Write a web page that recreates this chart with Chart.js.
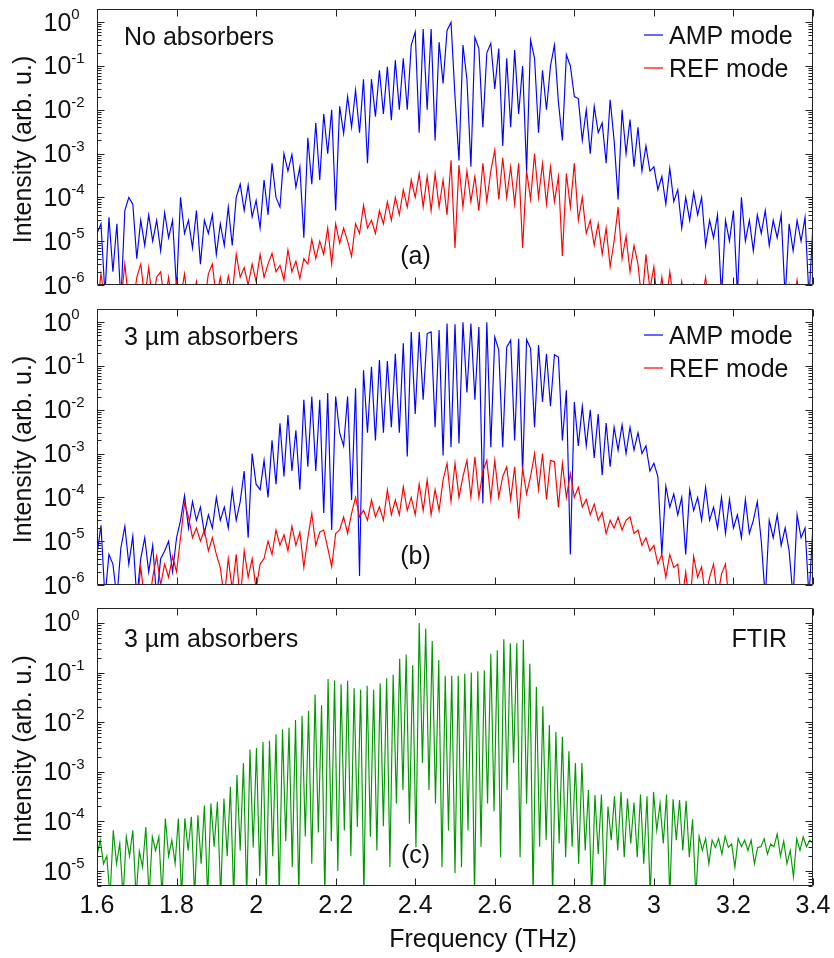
<!DOCTYPE html>
<html>
<head>
<meta charset="utf-8">
<script src="https://cdn.jsdelivr.net/npm/chart.js@4.4.1/dist/chart.umd.min.js"></script>
<style>
body{margin:0;background:#fff;}
#fig{position:relative;width:834px;height:958px;overflow:hidden;}
#fig canvas{position:absolute;left:0;}
</style>
</head>
<body>
<div id="fig">
<canvas id="panelA" width="834" height="300" style="top:0px"></canvas>
<canvas id="panelB" width="834" height="300" style="top:300px"></canvas>
<canvas id="panelC" width="834" height="358" style="top:600px"></canvas>
</div>
<script>
// sampling grids (THz): panels a,b every 0.01, FTIR on half the mode spacing
var freqAB = [];
for (var i = 0; i <= 180; i++) freqAB.push(1.6 + i * 0.01);
var freqC = [];
for (var j = 0; j <= 220; j++) freqC.push(1.6 + j * 1.8 / 220);

var xTicks = [1.6, 1.8, 2.0, 2.2, 2.4, 2.6, 2.8, 3.0, 3.2, 3.4];
var xTickLabels = ["1.6", "1.8", "2", "2.2", "2.4", "2.6", "2.8", "3", "3.2", "3.4"];
var yExpAB = [-6, -5, -4, -3, -2, -1, 0];
var yExpC = [-5, -4, -3, -2, -1, 0];

// (a) no absorbers
var ampA = [
1.5e-5,2.5e-5,6e-7,3.5e-5,2e-6,2.5e-5,4e-7,5e-5,1e-4,7e-5,
4e-6,3e-5,8e-6,4e-5,1e-5,3e-5,6e-6,4.5e-5,1.2e-5,3e-5,
8e-7,1e-4,1.5e-5,3e-5,7e-6,5e-5,3e-6,3e-5,1.5e-5,4e-5,
5e-6,2.5e-5,8e-6,6e-5,8e-6,1e-4,2e-4,5e-5,1.9e-4,3.6e-5,
8.5e-5,2e-5,2.5e-4,4e-5,6e-4,1e-4,6e-5,1e-3,4e-4,9.5e-4,
1.7e-4,5e-4,1.2e-5,2.3e-3,2e-4,5e-3,2.5e-4,8e-3,1e-3,1e-2,
5e-5,1.2e-2,2.9e-3,2e-2,4e-3,2.8e-2,3e-3,5e-2,6e-4,5e-2,
7e-3,8e-2,8e-3,9.6e-2,5.8e-3,0.135,1e-2,0.15,1e-2,0.3,
0.6,3e-3,0.7,1e-2,0.7,2e-3,0.35,4e-2,0.65,1.0,
2e-2,7e-4,0.3,5e-2,5e-4,0.45,0.25,4e-3,0.2,0.33,
3e-2,0.25,1.5e-3,0.15,4e-3,0.23,8e-3,0.1,4e-4,0.39,
0.15,3e-3,0.08,1e-2,0.1,0.3,1.5e-2,2e-3,0.18,0.1,
2e-2,1.8e-2,2e-3,1e-2,1e-3,1.2e-2,3e-3,5e-3,6e-4,1.7e-2,
2e-3,9e-5,1e-2,1e-3,6e-3,5e-4,4e-3,4e-4,1.5e-3,4e-4,
5e-4,1.5e-4,3e-4,7e-5,4.6e-4,8e-5,1.5e-4,2e-5,1e-4,3e-5,
1.3e-4,4e-5,1e-4,8e-6,3e-5,1.2e-5,4e-5,5e-7,3e-5,1e-5,
5e-5,6e-7,1e-4,1e-5,3e-5,6e-6,4e-5,1.5e-5,5e-5,8e-6,
3e-5,1.2e-5,4e-5,5e-7,2.5e-5,6e-6,3e-5,1e-5,3.5e-5,5e-7,2.5e-5
];
var refA = [
3e-7,1.8e-6,4e-7,3e-7,5e-7,3e-7,4e-7,3e-6,4e-7,3e-7,
1.5e-6,3e-6,5e-7,2.5e-6,4e-7,1.5e-6,2e-6,4e-7,1.5e-6,3e-7,
1.2e-6,5e-7,1.8e-6,3e-7,4e-7,1.2e-6,3e-7,4e-7,1.8e-6,3e-6,
5e-7,1.5e-6,4e-7,1.6e-6,6e-7,5e-6,1.5e-6,2.5e-6,1e-6,3e-6,
1.2e-6,5e-6,1.5e-6,3e-6,5.3e-6,2e-6,2.8e-6,1.3e-6,6.3e-6,2e-6,
3.5e-6,1.4e-6,4e-6,3e-6,1.1e-5,4e-6,1e-5,5e-6,2e-5,3e-6,
2.5e-5,9e-6,2e-5,1e-5,4.5e-6,2.5e-5,1.5e-5,6.6e-5,2e-5,3e-5,
1.5e-5,5e-5,2.5e-5,8e-5,3e-5,1e-4,4e-5,1.5e-4,6e-5,2.5e-4,
1e-4,3.5e-4,6e-5,3e-4,5e-5,3.5e-4,6e-5,2.5e-4,4e-5,7e-4,
7e-6,5.5e-4,6e-5,4e-4,8e-5,3e-4,5e-5,6e-4,8e-5,4e-4,
1.2e-3,9e-5,8e-4,1e-4,5e-4,7e-5,6e-4,7e-6,4e-4,9e-5,
1e-3,1e-4,6e-4,7e-5,5e-4,8e-5,3e-4,4.6e-6,3.5e-4,6e-5,
6e-4,3e-5,1e-4,1.5e-5,3e-5,8e-6,2.5e-5,5e-6,2e-5,2.6e-6,
1e-5,6e-5,4e-6,1.3e-5,2e-6,8e-6,3e-6,4e-7,5e-6,8e-7,
2.6e-6,3e-7,1.5e-6,3e-7,2e-6,4e-7,3e-7,1.2e-6,3e-7,5e-7,
1e-6,3e-7,4e-7,1.5e-6,3e-7,4e-7,3e-7,1.2e-6,3e-7,4e-7,
3e-7,5e-7,3e-7,4e-7,3e-7,3e-7,1.2e-6,3e-7,4e-7,3e-7,
3e-7,5e-7,3e-7,3e-7,1e-6,3e-7,1.3e-6,3e-7,3e-7,4e-7,3e-7
];

// (b) 3 um absorbers
var ampB = [
5e-6,2.3e-5,5e-7,5e-6,3e-6,5e-7,7e-6,2.2e-5,3e-6,1.3e-5,
5e-7,4e-6,1.2e-5,2e-6,8e-6,5e-7,4e-6,6e-6,1e-5,2e-6,
1.2e-5,3e-5,1.1e-4,2e-5,8e-5,3e-5,6e-5,1.5e-5,4e-5,2e-5,
1e-4,3e-5,6e-5,2e-5,1.5e-4,3e-5,8e-5,4e-4,1.2e-5,1e-3,
2e-4,1.5e-4,7e-4,1e-4,2e-3,2e-4,4.9e-3,3e-4,7.6e-3,4e-4,
3.4e-3,1.5e-4,1.7e-2,5e-4,2e-2,4e-4,1.7e-2,4.4e-5,2.4e-2,1.8e-5,
2e-2,3e-3,1.5e-3,2e-2,8.7e-5,3.1e-2,1.6e-6,8e-2,3e-3,9.6e-2,
2e-3,0.136,3e-3,0.13,4e-3,0.19,3e-3,0.33,8.6e-4,0.6,
8e-3,0.6,1.7e-2,0.55,0.6,4e-3,0.66,9e-4,0.93,1.4e-3,
0.9,1.7e-3,1.0,2.5e-2,0.93,1.7e-2,0.78,7.3e-5,1.0,1.4e-3,
0.46,0.23,1.4e-3,0.27,0.39,2e-3,0.42,3.5e-4,0.4,0.25,
4e-3,0.3,1.5e-2,0.19,1.2e-2,0.18,0.16,2e-3,2.8e-2,5e-6,
1.5e-2,1.5e-3,1.2e-2,1.5e-3,1e-2,8e-4,8e-3,3.2e-4,5e-3,5e-4,
4e-3,1.2e-3,4.5e-3,1e-3,4e-3,1.2e-3,3e-3,1e-3,1.5e-3,4e-4,
6e-4,3e-4,5e-6,1.8e-4,6e-5,1.2e-4,4e-5,1e-4,5e-6,1.5e-4,
5e-5,1e-4,3e-5,1.7e-4,3e-5,6e-5,2e-5,1e-4,1.5e-5,9e-5,
2e-5,4e-5,1.2e-5,9e-5,1.5e-5,3e-5,8e-5,1e-5,5e-7,3e-5,
1.2e-5,4e-5,8e-6,2e-5,6e-6,5e-7,4e-5,1.2e-5,2e-5,5e-7,2.5e-5
];
var refB = [
3e-7,4e-7,3e-7,3e-7,5e-7,3e-7,4e-7,3e-7,3e-7,4e-7,
3e-7,2.6e-6,4e-7,3e-7,1.5e-6,4.5e-6,1e-6,3e-6,1.5e-6,4.5e-6,
2e-6,1.2e-5,7.4e-5,3.6e-5,1.2e-5,2e-5,1e-5,1.8e-5,6e-6,1.2e-5,
5e-6,2.5e-6,5e-7,4e-6,8e-7,5e-6,4e-7,6e-6,1.5e-6,4e-6,
8e-7,3e-6,4e-6,1e-5,5e-6,1.8e-5,8e-6,1.4e-5,6e-6,2.2e-5,
8e-6,1.6e-5,2.5e-6,1.2e-5,4.3e-5,8e-6,1.6e-5,1.8e-5,7e-6,2.6e-6,
1.5e-5,1.8e-5,3.6e-5,1.5e-5,4.3e-5,1e-4,3.6e-5,5.1e-5,3e-5,8.7e-5,
3.6e-5,6.1e-5,3e-5,1.5e-4,4e-5,8.7e-5,4e-5,1.75e-4,5e-5,1e-4,
4e-5,2e-4,5e-5,2.5e-4,4e-5,1.5e-4,5e-5,2.5e-4,6e-4,8e-5,
6e-4,1e-4,3e-4,7e-4,1e-4,8.5e-4,1e-4,4e-4,7e-4,9e-5,
7e-4,1e-4,3e-4,5e-4,9e-5,5e-4,3.3e-5,4.5e-4,1.2e-4,3e-4,
1e-3,1.5e-4,1e-3,9e-5,7e-4,6.5e-4,6e-5,6e-4,1e-4,3.5e-4,
1e-4,1.7e-4,6e-5,9e-5,4e-5,7e-5,3e-5,4.5e-5,1.5e-5,3e-5,
2e-5,3.5e-5,1.8e-5,3e-5,3.6e-5,1.5e-5,1.8e-5,8e-6,1.2e-5,6e-6,
8e-6,3e-6,5e-6,1.5e-6,5e-6,2.5e-6,3e-6,4e-7,2e-6,3e-7,
4.5e-6,1.5e-6,2.6e-6,5e-7,1.5e-6,3e-6,5e-7,1.8e-6,3e-6,3e-7,
3e-7,3e-7,3e-7,3e-7,3e-7,3e-7,3e-7,3e-7,3e-7,3e-7,
3e-7,3e-7,3e-7,3e-7,3e-7,3e-7,3e-7,3e-7,3e-7,3e-7,3e-7
];

// (c) FTIR, 3 um absorbers
var ftirC = [
2e-5,4.2e-5,1.4e-5,2e-5,3e-6,6.6e-5,1.4e-5,3.6e-5,3e-6,4.9e-5,
2e-5,6.6e-5,3e-6,2.5e-5,1.2e-5,7.7e-5,3e-6,4.9e-5,2.6e-5,4.9e-5,
3e-6,1.15e-4,2e-5,4.2e-5,1.4e-5,1.15e-4,3e-6,1.15e-4,2.6e-5,1.24e-4,
3e-6,1.33e-4,1.4e-5,2.1e-4,3e-6,2.3e-4,3.1e-5,2.5e-4,3e-6,2.9e-4,
2e-5,5e-4,3e-6,8.6e-4,2.6e-5,1.5e-3,3e-6,2.8e-3,3e-5,3e-3,
8e-6,4e-3,3e-6,4.2e-3,2e-5,5.7e-3,3e-6,7.2e-3,4e-5,7.7e-3,
1.2e-5,1.1e-2,3e-6,1.35e-2,5e-5,1.7e-2,1.4e-5,3.6e-2,6e-5,2.2e-2,
3e-6,7.4e-2,4e-5,6.9e-2,1e-5,5.8e-2,6.6e-5,6.8e-2,2e-5,4.8e-2,
7.7e-5,4.5e-2,3e-6,5.4e-2,4.9e-5,4.5e-2,2.6e-5,6.1e-2,8e-5,7.7e-2,
1.2e-5,9e-2,2.3e-4,0.19,4.3e-4,0.23,9e-5,0.14,3e-5,1.0,
1.5e-3,0.76,4.3e-4,0.43,2.3e-4,0.18,1.2e-5,8.6e-2,6.6e-5,8.6e-2,
9e-6,8.6e-2,1.2e-5,9.5e-2,6.6e-5,0.1,3e-6,0.106,3.1e-5,0.11,
2.3e-4,0.24,1.6e-4,0.28,1.9e-5,0.47,4.3e-4,0.39,1.5e-3,0.39,
1.9e-5,0.46,2.3e-4,0.15,3e-6,5.2e-2,3.1e-5,2.1e-2,4.2e-5,8.8e-3,
3e-6,6.4e-3,3.6e-5,5.1e-3,1.9e-5,2.6e-3,3.1e-5,1.5e-3,1.4e-5,1.5e-3,
2.6e-5,4.3e-4,3e-6,3.4e-4,2.2e-5,3.5e-4,3e-6,2e-4,4.2e-5,3.2e-4,
2.6e-5,3.9e-4,1.9e-5,2.9e-4,3.6e-5,2.4e-4,1.9e-5,3.5e-4,1.4e-5,3.2e-4,
3e-6,3.9e-4,6.6e-5,2.3e-4,3.6e-5,3.5e-4,3e-6,2.8e-4,4.2e-5,2.7e-4,
2.6e-5,2.6e-4,1.9e-5,1.1e-4,3e-6,5e-5,2.6e-5,4.5e-5,1.4e-5,4.2e-5,
3e-5,4.5e-5,2.2e-5,5e-5,3e-5,3.5e-5,1.2e-5,4.5e-5,3.1e-5,4.2e-5,
2.6e-5,4.2e-5,1.4e-5,3e-5,3.1e-5,4.5e-5,2.2e-5,3.5e-5,3.1e-5,5.6e-5,
2e-5,4e-5,1.4e-5,2.6e-5,7.6e-6,4.5e-5,2.6e-5,4.9e-5,3.1e-5,4.2e-5,3.6e-5
];

var FONT = '"Liberation Sans", Arial, Helvetica, sans-serif';
var INK = "#111";

function points(xs, ys) {
	var out = [];
	for (var k = 0; k < ys.length; k++) out.push({x: xs[k], y: ys[k]});
	return out;
}

function series(xs, ys, color) {
	return {data: points(xs, ys), borderColor: color, borderWidth: 1.15, pointRadius: 0, fill: false, tension: 0};
}

function decor(cfg) {
	return {
		id: "decor",
		afterDraw: function(chart) {
			var ctx = chart.ctx, a = chart.chartArea;
			var xs = chart.scales.x, ys = chart.scales.y;
			var L = Math.round(a.left) + 0.5, R = Math.round(a.right) - 0.5;
			var T = Math.round(a.top) + 0.5, B = Math.round(a.bottom) - 0.5;
			ctx.save();
			ctx.strokeStyle = "#222";
			ctx.lineWidth = 1;
			ctx.beginPath();
			ctx.rect(L, T, R - L, B - T);
			xTicks.forEach(function(v) {
				var px = Math.round(xs.getPixelForValue(v)) + 0.5;
				ctx.moveTo(px, B); ctx.lineTo(px, B - 7);
				ctx.moveTo(px, T); ctx.lineTo(px, T + 7);
			});
			for (var e = -7; e <= 0; e++) {
				for (var m = 1; m <= 9; m++) {
					var v = m * Math.pow(10, e);
					if (v < ys.min * 0.999 || v > ys.max * 1.001) continue;
					var py = Math.round(ys.getPixelForValue(v)) + 0.5;
					var len = (m === 1) ? 7 : 4;
					ctx.moveTo(L, py); ctx.lineTo(L + len, py);
					ctx.moveTo(R, py); ctx.lineTo(R - len, py);
				}
			}
			ctx.stroke();

			ctx.fillStyle = INK;
			ctx.textBaseline = "alphabetic";
			// y tick labels 10^n
			cfg.yExp.forEach(function(n) {
				var py = ys.getPixelForValue(Math.pow(10, n));
				ctx.font = "25px " + FONT;
				ctx.textAlign = "left";
				ctx.fillText("10", 43.5, py + 8.5);
				var w = ctx.measureText("10").width;
				ctx.font = "15px " + FONT;
				ctx.fillText(n === 0 ? "0" : "-" + (-n), 43.5 + w, py - 3);
			});
			ctx.font = "25px " + FONT;
			if (cfg.xLabels) {
				ctx.textAlign = "center";
				xTicks.forEach(function(v, k) {
					ctx.fillText(xTickLabels[k], xs.getPixelForValue(v), 313);
				});
				ctx.fillText("Frequency (THz)", 483, 346.5);
			}
			// y axis title
			ctx.save();
			ctx.translate(24, cfg.titleY);
			ctx.rotate(-Math.PI / 2);
			ctx.textAlign = "center";
			ctx.textBaseline = "middle";
			ctx.fillText("Intensity (arb. u.)", 0, 0);
			ctx.restore();

			ctx.textAlign = "left";
			ctx.fillText(cfg.note, 124, cfg.noteY);
			ctx.textAlign = "center";
			ctx.fillText(cfg.tag, 415.5, cfg.tagY);

			if (cfg.legend) {
				ctx.textAlign = "left";
				ctx.lineWidth = 1.2;
				cfg.legend.forEach(function(item, k) {
					var ly = 35 + k * 33;
					ctx.strokeStyle = item.color;
					ctx.beginPath();
					ctx.moveTo(644, ly); ctx.lineTo(663, ly);
					ctx.stroke();
					ctx.fillText(item.text, 669, ly + 9);
				});
			}
			if (cfg.rightNote) {
				ctx.textAlign = "right";
				ctx.fillText(cfg.rightNote, 787, cfg.noteY);
			}
			ctx.restore();
		}
	};
}

function panel(id, datasets, yMin, pad, cfg) {
	return new Chart(document.getElementById(id), {
		type: "line",
		data: {datasets: datasets},
		options: {
			responsive: false,
			animation: false,
			events: [],
			layout: {padding: pad},
			plugins: {legend: {display: false}, tooltip: {enabled: false}},
			scales: {
				x: {type: "linear", min: 1.6, max: 3.4, display: false},
				y: {type: "logarithmic", min: yMin, max: 2, display: false}
			}
		},
		plugins: [decor(cfg)]
	});
}

var legendAB = [{text: "AMP mode", color: "#0000ff"}, {text: "REF mode", color: "#ff0000"}];

panel("panelA",
	[series(freqAB, refA, "#ff0000"), series(freqAB, ampA, "#0000ff")],
	1e-6, {left: 97, right: 21, top: 9, bottom: 15},
	{yExp: yExpAB, titleY: 149.5, note: "No absorbers", noteY: 45, tag: "(a)", tagY: 263.5, legend: legendAB});

panel("panelB",
	[series(freqAB, refB, "#ff0000"), series(freqAB, ampB, "#0000ff")],
	1e-6, {left: 97, right: 21, top: 9, bottom: 15},
	{yExp: yExpAB, titleY: 149.5, note: "3 \u00b5m absorbers", noteY: 45, tag: "(b)", tagY: 263.5, legend: legendAB});

panel("panelC",
	[series(freqC, ftirC, "#009a00")],
	5e-6, {left: 97, right: 21, top: 8, bottom: 72},
	{yExp: yExpC, titleY: 149, note: "3 \u00b5m absorbers", noteY: 47, tag: "(c)", tagY: 263, rightNote: "FTIR", xLabels: true});
</script>
</body>
</html>
